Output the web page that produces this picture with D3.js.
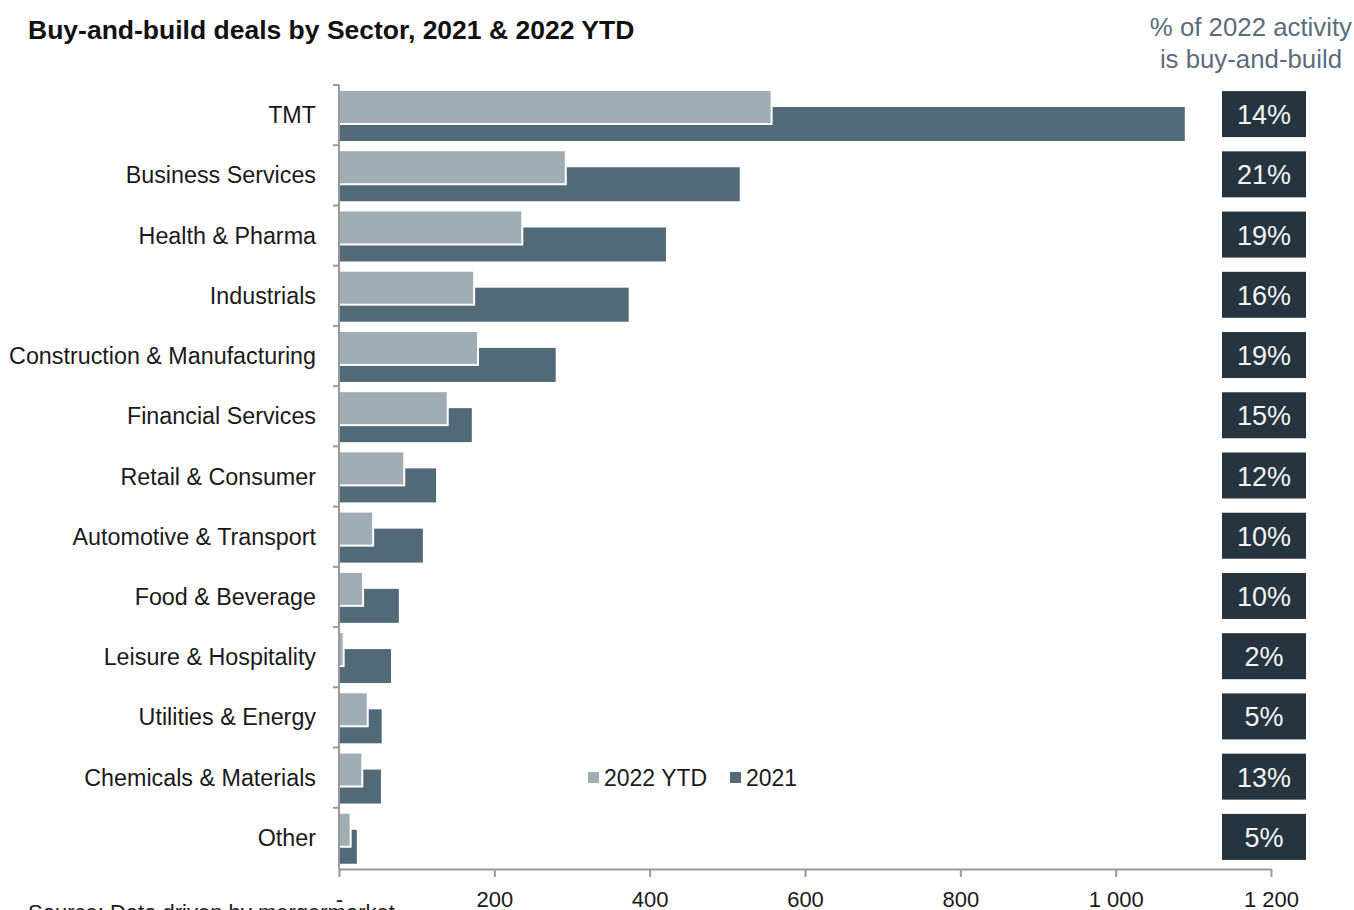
<!DOCTYPE html>
<html>
<head>
<meta charset="utf-8">
<script src="https://cdn.jsdelivr.net/npm/d3@7"></script>
<style>
  body { margin: 0; background: #fff; }
  text { font-family: "Liberation Sans", Arial, sans-serif; }
</style>
</head>
<body>
<script>
// sectors, top to bottom
var sectors = ["TMT", "Business Services", "Health & Pharma", "Industrials",
  "Construction & Manufacturing", "Financial Services", "Retail & Consumer",
  "Automotive & Transport", "Food & Beverage", "Leisure & Hospitality",
  "Utilities & Energy", "Chemicals & Materials", "Other"];
var deals2022 = [557, 292, 236, 174, 179, 140, 84, 44, 31, 6, 37, 30, 15];
var deals2021 = [1089, 516, 421, 373, 279, 171, 125, 108, 77, 67, 55, 54, 23];
var shareLabels = ["14%", "21%", "19%", "16%", "19%", "15%", "12%", "10%", "10%", "2%", "5%", "13%", "5%"];
var xTicks = [0, 200, 400, 600, 800, 1000, 1200];
var seriesNames = ["2022 YTD", "2021"];

var W = 1354, H = 910;
var light = "#a1adb5", dark = "#526a77", boxCol = "#263440";

var svg = d3.select("body").append("svg")
  .attr("width", W)
  .attr("height", H);

var x = d3.scaleLinear().domain([0, 1200]).range([339, 1271]);
var y = d3.scaleBand().domain(sectors).range([85, 868]);

// title
svg.append("text")
  .attr("x", 28).attr("y", 39)
  .attr("font-size", 26.5).attr("font-weight", "bold")
  .attr("fill", "#111")
  .text("Buy-and-build deals by Sector, 2021 & 2022 YTD");

// right header
var hdr = svg.append("text")
  .attr("text-anchor", "end")
  .attr("font-size", 25.8)
  .attr("fill", "#5b6d7d");
hdr.append("tspan").attr("x", 1352).attr("y", 36).text("% of 2022 activity");
hdr.append("tspan").attr("x", 1342).attr("y", 68).text("is buy-and-build");

// 2021 bars (behind)
svg.selectAll("rect.b21").data(sectors).enter()
  .append("rect")
  .attr("class", "b21")
  .attr("x", x(0))
  .attr("y", function(d) { return y(d) + 22; })
  .attr("width", function(d, i) { return x(deals2021[i]) - x(0); })
  .attr("height", 34)
  .attr("fill", dark);

// 2022 bars (front, white edge)
svg.selectAll("rect.b22").data(sectors).enter()
  .append("rect")
  .attr("class", "b22")
  .attr("x", x(0))
  .attr("y", function(d) { return y(d) + 5; })
  .attr("width", function(d, i) { return x(deals2022[i]) - x(0); })
  .attr("height", 34)
  .attr("fill", light)
  .attr("stroke", "#fff")
  .attr("stroke-width", 2);

// y axis
var yAxis = svg.append("g")
  .attr("transform", "translate(" + x(0) + ",0)");
yAxis.append("line")
  .attr("x1", 0).attr("x2", 0)
  .attr("y1", 85).attr("y2", 869)
  .attr("stroke", "#9a9a9a").attr("stroke-width", 2);
yAxis.selectAll("line.tk").data(sectors).enter()
  .append("line")
  .attr("class", "tk")
  .attr("x1", -6).attr("x2", 0)
  .attr("y1", function(d) { return y(d); })
  .attr("y2", function(d) { return y(d); })
  .attr("stroke", "#9a9a9a").attr("stroke-width", 2);
svg.selectAll("text.cat").data(sectors).enter()
  .append("text")
  .attr("class", "cat")
  .attr("x", 316)
  .attr("y", function(d) { return y(d) + y.bandwidth() / 2 + 8; })
  .attr("text-anchor", "end")
  .attr("font-size", 23.3)
  .attr("fill", "#1a1a1a")
  .text(function(d) { return d; });

// x axis
var xAxis = d3.axisBottom(x)
  .tickValues(xTicks)
  .tickSize(8)
  .tickSizeOuter(0)
  .tickFormat(function(d) { return d === 0 ? "-" : d3.format(",")(d).replace(",", " "); });
var gx = svg.append("g")
  .attr("transform", "translate(0,869)")
  .call(xAxis);
gx.select(".domain").attr("stroke", "#9a9a9a").attr("stroke-width", 2);
gx.selectAll(".tick line").attr("stroke", "#9a9a9a").attr("stroke-width", 2);
gx.selectAll(".tick text")
  .attr("font-family", "Liberation Sans, Arial, sans-serif")
  .attr("font-size", 22)
  .attr("fill", "#1a1a1a")
  .attr("dy", null)
  .attr("y", 38);

// percent boxes
var boxes = svg.selectAll("g.box").data(sectors).enter()
  .append("g")
  .attr("class", "box")
  .attr("transform", function(d) { return "translate(1222," + (y(d) + y.bandwidth() / 2 - 24) + ")"; });
boxes.append("rect")
  .attr("width", 84).attr("height", 46)
  .attr("fill", boxCol);
boxes.append("text")
  .attr("x", 42).attr("y", 33)
  .attr("text-anchor", "middle")
  .attr("font-size", 27)
  .attr("fill", "#f4f4f4")
  .text(function(d, i) { return shareLabels[i]; });

// legend
var legend = svg.append("g").attr("transform", "translate(588,778)");
var legX = [0, 142];
seriesNames.forEach(function(s, i) {
  legend.append("rect")
    .attr("x", legX[i]).attr("y", -6)
    .attr("width", 11).attr("height", 11)
    .attr("fill", i === 0 ? light : dark);
  legend.append("text")
    .attr("x", legX[i] + 16).attr("y", 8)
    .attr("font-size", 23)
    .attr("fill", "#1a1a1a")
    .text(s);
});

// source, cut by the bottom edge
svg.append("text")
  .attr("x", 28).attr("y", 920)
  .attr("font-size", 22)
  .attr("fill", "#1a1a1a")
  .text("Source: Data driven by mergermarket");
</script>
</body>
</html>
